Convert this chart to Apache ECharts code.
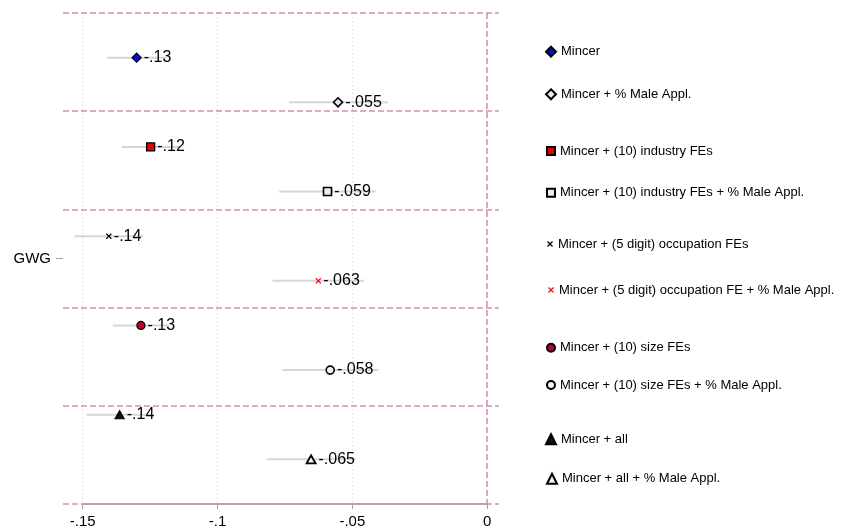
<!DOCTYPE html>
<html><head><meta charset="utf-8">
<script src="https://cdn.jsdelivr.net/npm/echarts@6/dist/echarts.min.js"></script>
<style>html,body{margin:0;padding:0;background:#fff}#c{width:841px;height:530px}</style>
</head><body><div id="c"></div>
<script>
// ---------- data ----------
const models = [
  'Mincer',
  'Mincer + % Male Appl.',
  'Mincer + (10) industry FEs',
  'Mincer + (10) industry FEs + % Male Appl.',
  'Mincer + (5 digit) occupation FEs',
  'Mincer + (5 digit) occupation FE + % Male Appl.',
  'Mincer + (10) size FEs',
  'Mincer + (10) size FEs + % Male Appl.',
  'Mincer + all',
  'Mincer + all + % Male Appl.'
];
const estimates = [-0.1300, -0.0553, -0.1248, -0.0592, -0.1403, -0.0626, -0.1284, -0.0582, -0.1363, -0.0653];
const ciLow     = [-0.1409, -0.0734, -0.1355, -0.0771, -0.1531, -0.0796, -0.1388, -0.0759, -0.1485, -0.0817];
const ciHigh    = [-0.1191, -0.0369, -0.1141, -0.0413, -0.1275, -0.0457, -0.1180, -0.0402, -0.1241, -0.0489];
const pointLabels = ['-.13', '-.055', '-.12', '-.059', '-.14', '-.063', '-.13', '-.058', '-.14', '-.065'];
const rowPositions = [1, 2, 3, 4, 5, 6, 7, 8, 9, 10];
const groupBreaks = [0, 2.2, 4.4, 6.6, 8.8, 11];
const xTicks = [-0.15, -0.1, -0.05, 0];
const xTickLabels = ['-.15', '-.1', '-.05', '0'];
const xGridValues = [-0.15, -0.1, -0.05];
const yTickValues = [5.5];
const yTickLabels = ['GWG'];

// ---------- styles / layout ----------
const FONT = 'Liberation Sans, Arial, sans-serif';
const xCross = 'path://M1.5,0 L5,3.5 L8.5,0 L10,1.5 L6.5,5 L10,8.5 L8.5,10 L5,6.5 L1.5,10 L0,8.5 L3.5,5 L0,1.5 Z';
const markerStyles = [
  {symbol: 'diamond',  size: [9, 9],  fill: '#0a0ad2', border: '#000', bw: 1.3, leg: 10, legLeft: 545},
  {symbol: 'diamond',  size: [9, 9],  fill: '#e6e6f6', border: '#000', bw: 1.6, leg: 10, legLeft: 545},
  {symbol: 'rect',     size: [8, 8],  fill: '#e60000', border: '#000', bw: 1.3, leg: 8, legLeft: 546},
  {symbol: 'rect',     size: [8, 8],  fill: '#f6e6e6', border: '#000', bw: 1.6, leg: 8, legLeft: 546},
  {symbol: xCross,     size: [6, 6],  fill: '#000',    border: '#000', bw: 0,   leg: 6, legLeft: 547},
  {symbol: xCross,     size: [6, 6],  fill: '#ec1020', border: '#ec1020', bw: 0, leg: 6, legLeft: 548},
  {symbol: 'circle',   size: [8, 8],  fill: '#b4062c', border: '#000', bw: 1.3, leg: 8, legLeft: 546},
  {symbol: 'circle',   size: [8, 8],  fill: '#f8f0f0', border: '#000', bw: 1.6, leg: 8, legLeft: 546},
  {symbol: 'triangle', size: [9, 8],  fill: '#111',    border: '#000', bw: 1.2, leg: 10, legLeft: 545},
  {symbol: 'triangle', size: [9, 8],  fill: '#f4f4f4', border: '#000', bw: 1.8, leg: 10, legLeft: 546}
];
const legendCenters = [51.7, 94.3, 151, 192.7, 244, 290, 347.7, 385, 439.3, 478.7];
const pink = '#d48fb8';

function tickText(v, vals, labels) {
  for (let i = 0; i < vals.length; i++) if (Math.abs(vals[i] - v) < 1e-6) return labels[i];
  return '';
}

const scatterSeries = models.map((m, i) => {
  const st = markerStyles[i];
  return {
    type: 'scatter',
    name: m,
    data: [[estimates[i], rowPositions[i]]],
    symbol: st.symbol,
    symbolSize: st.size,
    itemStyle: {color: st.fill, borderColor: st.border, borderWidth: st.bw, opacity: 1},
    label: {
      show: true, position: 'right', distance: 2,
      formatter: pointLabels[i], fontSize: 16, color: '#000', fontFamily: FONT
    },
    emphasis: {disabled: true},
    z: 5,
    animation: false
  };
});

const markLineData = [];
xGridValues.forEach(v => markLineData.push({xAxis: v, lineStyle: {color: '#cdcdcd', type: [1, 3], width: 1}}));
markLineData.push([{coord: [-0.15, 11], lineStyle: {color: '#a8a8a8', type: 'solid', width: 2}}, {coord: [0, 11]}]);
groupBreaks.forEach(v => markLineData.push({yAxis: v, lineStyle: {color: pink, type: [6, 3], width: 1.6}}));
markLineData.push({xAxis: 0, lineStyle: {color: pink, type: [6, 3], width: 1.6}});

const ciSeries = {
  type: 'custom',
  name: 'ci',
  data: ciLow.map((l, i) => [l, ciHigh[i], rowPositions[i]]),
  encode: {x: [0, 1], y: 2},
  renderItem: function (params, api) {
    const a = api.coord([api.value(0), api.value(2)]);
    const b = api.coord([api.value(1), api.value(2)]);
    return {type: 'line', shape: {x1: a[0], y1: a[1], x2: b[0], y2: b[1]},
            style: {stroke: '#d6d6d6', lineWidth: 2}};
  },
  silent: true,
  z: 2,
  animation: false,
  markLine: {
    silent: true, symbol: ['none', 'none'], animation: false,
    label: {show: false}, emphasis: {disabled: true},
    data: markLineData
  }
};

const option = {
  backgroundColor: '#fff',
  animation: false,
  grid: {left: 63, right: 342, top: 13, bottom: 26, containLabel: false},
  xAxis: {
    type: 'value', min: -0.1573, max: 0.0044, position: 'bottom',
    axisLine: {show: false, onZero: false},
    splitLine: {show: false},
    axisTick: {show: true, customValues: xTicks, length: 5, lineStyle: {color: '#a0a0a0', width: 1}},
    axisLabel: {
      customValues: xTicks, formatter: v => tickText(v, xTicks, xTickLabels),
      fontSize: 15, color: '#000', fontFamily: FONT, margin: 10
    }
  },
  yAxis: {
    type: 'value', min: 0, max: 11, inverse: true, position: 'left',
    axisLine: {show: false, onZero: false},
    splitLine: {show: false},
    axisTick: {show: true, customValues: yTickValues, length: 7, lineStyle: {color: '#a0a0a0', width: 1}},
    axisLabel: {
      customValues: yTickValues, formatter: v => tickText(v, yTickValues, yTickLabels),
      fontSize: 15, color: '#000', fontFamily: FONT, margin: 12
    }
  },
  legend: models.map((m, i) => ({
    data: [m], left: markerStyles[i].legLeft, top: legendCenters[i] - 7,
    orient: 'vertical', selectedMode: false,
    itemWidth: markerStyles[i].leg, itemHeight: markerStyles[i].leg, padding: 0,
    textStyle: {fontSize: 13, color: '#000', fontFamily: FONT, lineHeight: 14}
  })),
  series: [ciSeries].concat(scatterSeries)
};

const chart = echarts.init(document.getElementById('c'), null, {renderer: 'canvas'});
chart.setOption(option);
</script>
</body></html>
